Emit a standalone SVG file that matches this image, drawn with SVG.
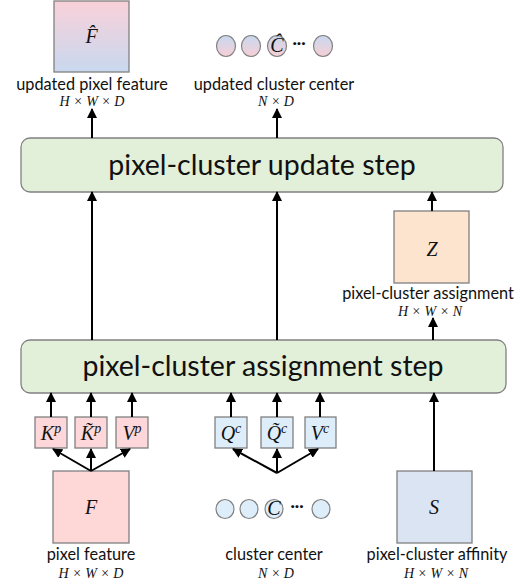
<svg xmlns="http://www.w3.org/2000/svg" width="526" height="588" viewBox="0 0 526 588">
<defs>
  <linearGradient id="gBox" x1="0" y1="0" x2="0" y2="1">
    <stop offset="0" stop-color="#f9d1d9"/>
    <stop offset="1" stop-color="#c8d8ef"/>
  </linearGradient>
  <linearGradient id="gCirc" x1="0" y1="0" x2="0" y2="1">
    <stop offset="0" stop-color="#c8d8ef"/>
    <stop offset="1" stop-color="#f7cfd6"/>
  </linearGradient>
  <marker id="ah" viewBox="0 0 10 10" refX="9" refY="5" markerWidth="5" markerHeight="5" orient="auto" markerUnits="strokeWidth">
    <path d="M0,0 L10,5 L0,10 z" fill="#000"/>
  </marker>
  <style>
    .lbl{font-family:Lato,"Liberation Sans",sans-serif;font-size:16.3px;fill:#111;text-anchor:middle}
    .big{font-family:Lato,"Liberation Sans",sans-serif;font-size:28.5px;fill:#111;text-anchor:middle}
    .m{font-family:"Liberation Serif","DejaVu Serif",serif;font-style:italic;font-size:20px;fill:#111;text-anchor:middle}
    .dim{font-family:"Liberation Serif","DejaVu Serif",serif;font-style:italic;font-size:14px;fill:#111;text-anchor:middle}
    .box{stroke:#808080;stroke-width:1.3}
    .step{fill:#e2efd9;stroke:#808080;stroke-width:1.3}
    .pink{fill:#fdd7d9}
    .blue{fill:#ddeefa}
    .cgrad{fill:url(#gCirc);stroke:#808080;stroke-width:1.2}
    .cblue{fill:#ddeefa;stroke:#808080;stroke-width:1.2}
    .dots{font-family:Lato,"Liberation Sans",sans-serif;font-size:16px;font-weight:bold;fill:#111;text-anchor:middle}
    .conn line{stroke:#000;stroke-width:2;fill:none}
  </style>
</defs>

<g id="updated-pixel-feature">
  <rect class="box" x="54" y="1" width="75" height="71" fill="url(#gBox)"/>
  <text class="m" x="91.5" y="43">F&#770;</text>
  <text class="lbl" x="92" y="90">updated pixel feature</text>
  <text class="dim" x="92" y="106">H × W × D</text>
</g>

<g id="updated-cluster-center">
  <ellipse class="cgrad" cx="226" cy="46" rx="9.5" ry="10.5"/>
  <ellipse class="cgrad" cx="251" cy="46" rx="9.5" ry="10.5"/>
  <ellipse class="cgrad" cx="277" cy="46" rx="9.5" ry="10.5"/>
  <text class="m" x="277" y="52" font-size="17">Ĉ</text>
  <text class="dots" x="299" y="48">···</text>
  <ellipse class="cgrad" cx="323" cy="46" rx="9.5" ry="10.5"/>
  <text class="lbl" x="274" y="90">updated cluster center</text>
  <text class="dim" x="276" y="106">N × D</text>
</g>

<g id="update-step">
  <rect class="step" x="21" y="138" width="482" height="54" rx="9"/>
  <text class="big" x="262" y="175">pixel-cluster update step</text>
</g>

<g id="assignment-Z">
  <rect class="box" x="394" y="211" width="75" height="72" fill="#fce4cf"/>
  <text class="m" x="432" y="256">Z</text>
  <text class="lbl" x="428" y="299" font-size="15.5">pixel-cluster assignment</text>
  <text class="dim" x="430" y="316">H × W × N</text>
</g>

<g id="assignment-step">
  <rect class="step" x="21" y="340" width="485" height="53" rx="9"/>
  <text class="big" x="263" y="376">pixel-cluster assignment step</text>
</g>

<g id="Kp">
  <rect class="box pink" x="35" y="417" width="32" height="31"/>
  <text class="m" x="51" y="440">K<tspan font-size="14" dy="-7">p</tspan></text>
</g>
<g id="Kp-tilde">
  <rect class="box pink" x="75" y="417" width="32" height="31"/>
  <text class="m" x="91" y="440">K&#771;<tspan font-size="14" dy="-7">p</tspan></text>
</g>
<g id="Vp">
  <rect class="box pink" x="116" y="417" width="32" height="31"/>
  <text class="m" x="132" y="440">V<tspan font-size="14" dy="-7">p</tspan></text>
</g>

<g id="Qc">
  <rect class="box blue" x="215" y="417" width="32" height="31"/>
  <text class="m" x="231" y="440">Q<tspan font-size="14" dy="-7">c</tspan></text>
</g>
<g id="Qc-tilde">
  <rect class="box blue" x="261" y="417" width="32" height="31"/>
  <text class="m" x="277" y="440">Q&#771;<tspan font-size="14" dy="-7">c</tspan></text>
</g>
<g id="Vc">
  <rect class="box blue" x="305" y="417" width="31" height="31"/>
  <text class="m" x="320" y="440">V<tspan font-size="14" dy="-7">c</tspan></text>
</g>

<g id="pixel-feature">
  <rect class="box" x="53" y="471" width="76" height="72" fill="#fed7d7"/>
  <text class="m" x="91" y="514">F</text>
  <text class="lbl" x="91" y="560">pixel feature</text>
  <text class="dim" x="91" y="578">H × W × D</text>
</g>

<g id="cluster-center">
  <ellipse class="cblue" cx="225" cy="509" rx="9" ry="9.5"/>
  <ellipse class="cblue" cx="249" cy="509" rx="9" ry="9.5"/>
  <ellipse class="cblue" cx="274" cy="509" rx="9" ry="9.5"/>
  <text class="m" x="274" y="515" font-size="17">C</text>
  <text class="dots" x="297" y="511">···</text>
  <ellipse class="cblue" cx="321" cy="509" rx="9" ry="9.5"/>
  <text class="lbl" x="274" y="560">cluster center</text>
  <text class="dim" x="276" y="578">N × D</text>
</g>

<g id="pixel-cluster-affinity">
  <rect class="box" x="397" y="471" width="75" height="72" fill="#dbe4f3"/>
  <text class="m" x="434" y="514">S</text>
  <text class="lbl" x="437" y="560">pixel-cluster affinity</text>
  <text class="dim" x="436" y="578">H × W × N</text>
</g>

<g id="connectors" class="conn">
  <line x1="92" y1="138" x2="92" y2="109" marker-end="url(#ah)"/>
  <line x1="277" y1="138" x2="277" y2="109" marker-end="url(#ah)"/>
  <line x1="92" y1="340" x2="92" y2="192" marker-end="url(#ah)"/>
  <line x1="277" y1="340" x2="277" y2="192" marker-end="url(#ah)"/>
  <line x1="432" y1="211" x2="432" y2="192" marker-end="url(#ah)"/>
  <line x1="433" y1="340" x2="433" y2="318" marker-end="url(#ah)"/>
  <line x1="51" y1="417" x2="51" y2="393" marker-end="url(#ah)"/>
  <line x1="91" y1="417" x2="91" y2="393" marker-end="url(#ah)"/>
  <line x1="132" y1="417" x2="132" y2="393" marker-end="url(#ah)"/>
  <line x1="231" y1="417" x2="231" y2="393" marker-end="url(#ah)"/>
  <line x1="277" y1="417" x2="277" y2="393" marker-end="url(#ah)"/>
  <line x1="320" y1="417" x2="320" y2="393" marker-end="url(#ah)"/>
  <line x1="434" y1="471" x2="434" y2="393" marker-end="url(#ah)"/>
  <line x1="91" y1="471" x2="53" y2="449" marker-end="url(#ah)"/>
  <line x1="91" y1="471" x2="91" y2="449" marker-end="url(#ah)"/>
  <line x1="91" y1="471" x2="130" y2="449" marker-end="url(#ah)"/>
  <line x1="277" y1="473" x2="233" y2="449" marker-end="url(#ah)"/>
  <line x1="277" y1="473" x2="277" y2="449" marker-end="url(#ah)"/>
  <line x1="277" y1="473" x2="318" y2="449" marker-end="url(#ah)"/>
</g>
</svg>
